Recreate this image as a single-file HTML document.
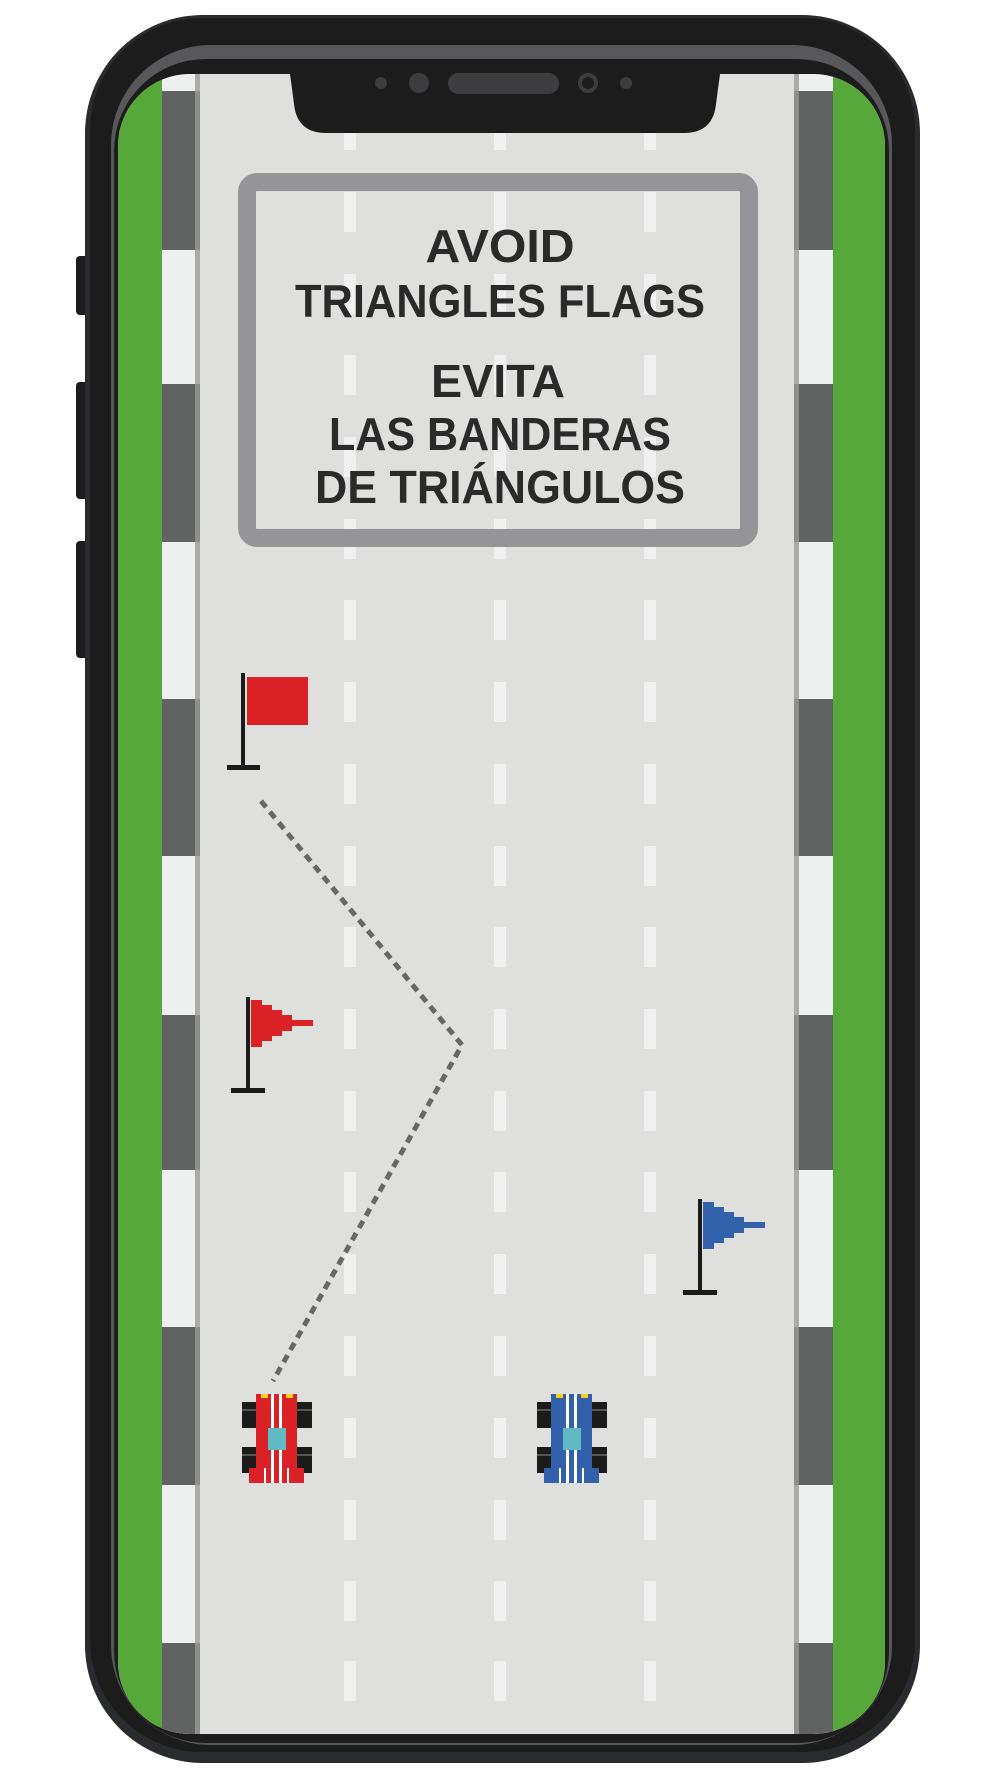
<!DOCTYPE html>
<html><head><meta charset="utf-8"><style>
html,body{margin:0;padding:0;background:#fff;}
svg{display:block;}
</style></head><body>
<svg width="1000" height="1778" viewBox="0 0 1000 1778" xmlns="http://www.w3.org/2000/svg">
<defs>
<clipPath id="scr"><rect x="118" y="74" width="767" height="1660" rx="72"/></clipPath>
<g id="car">
  <rect x="242" y="1402" width="70" height="26" fill="#1b1b1b"/>
  <rect x="242" y="1447" width="70" height="26" fill="#1b1b1b"/>
  <rect x="242" y="1409" width="70" height="2" fill="#555"/>
  <rect x="242" y="1454" width="70" height="2" fill="#555"/>
  <rect x="256" y="1394" width="41" height="80"/>
  <rect x="249" y="1468" width="55" height="15"/>
  <rect x="271" y="1394" width="3" height="89" fill="#fff"/>
  <rect x="279" y="1394" width="3" height="89" fill="#fff"/>
  <rect x="264" y="1468" width="2" height="15" fill="#fff"/>
  <rect x="287" y="1468" width="2" height="15" fill="#fff"/>
  <rect x="268" y="1428" width="18" height="22" fill="#5fbac3"/>
  <rect x="261" y="1394" width="7" height="4" fill="#f2d21b"/>
  <rect x="286" y="1394" width="7" height="4" fill="#f2d21b"/>
</g>
</defs>
<rect x="76" y="256" width="14" height="59" rx="4" fill="#1c1c1c"/>
<rect x="76" y="382" width="14" height="117" rx="4" fill="#1c1c1c"/>
<rect x="76" y="541" width="14" height="117" rx="4" fill="#1c1c1c"/>
<rect x="85" y="15" width="835" height="1748" rx="118" fill="#2a2b2f"/>
<rect x="90" y="18" width="825" height="1734" rx="112" fill="#1c1c1c"/>
<rect x="111" y="45" width="781" height="1700" rx="100" fill="#58585a"/>
<rect x="114" y="59" width="775" height="1684" rx="92" fill="#1c1c1c"/>
<g clip-path="url(#scr)">
  <rect x="118" y="74" width="767" height="1660" fill="#dfe0de"/>
  <rect x="118" y="74" width="44" height="1660" fill="#56a83a"/>
  <rect x="833" y="74" width="52" height="1660" fill="#56a83a"/>
  <rect x="162" y="74" width="38" height="1660" fill="#eef0ef"/>
  <rect x="794" y="74" width="39" height="1660" fill="#eef0ef"/>
  <g fill="#616362">
    <rect x="162" y="91" width="38" height="159"/><rect x="794" y="91" width="39" height="159"/>
    <rect x="162" y="384" width="38" height="158"/><rect x="794" y="384" width="39" height="158"/>
    <rect x="162" y="699" width="38" height="157"/><rect x="794" y="699" width="39" height="157"/>
    <rect x="162" y="1015" width="38" height="155"/><rect x="794" y="1015" width="39" height="155"/>
    <rect x="162" y="1327" width="38" height="158"/><rect x="794" y="1327" width="39" height="158"/>
    <rect x="162" y="1643" width="38" height="100"/><rect x="794" y="1643" width="39" height="100"/>
  </g>
  <rect x="195" y="74" width="5" height="1660" fill="#999a99" opacity="0.8"/>
  <rect x="794" y="74" width="5" height="1660" fill="#999a99" opacity="0.8"/>
  <g fill="#eff0ef">
  <rect x="344" y="110" width="12" height="40"/><rect x="494" y="110" width="12" height="40"/><rect x="644" y="110" width="12" height="40"/>
  <rect x="344" y="192" width="12" height="40"/><rect x="494" y="192" width="12" height="40"/><rect x="644" y="192" width="12" height="40"/>
  <rect x="344" y="274" width="12" height="40"/><rect x="494" y="274" width="12" height="40"/><rect x="644" y="274" width="12" height="40"/>
  <rect x="344" y="355" width="12" height="40"/><rect x="494" y="355" width="12" height="40"/><rect x="644" y="355" width="12" height="40"/>
  <rect x="344" y="437" width="12" height="40"/><rect x="494" y="437" width="12" height="40"/><rect x="644" y="437" width="12" height="40"/>
  <rect x="344" y="519" width="12" height="40"/><rect x="494" y="519" width="12" height="40"/><rect x="644" y="519" width="12" height="40"/>
  <rect x="344" y="600" width="12" height="40"/><rect x="494" y="600" width="12" height="40"/><rect x="644" y="600" width="12" height="40"/>
  <rect x="344" y="682" width="12" height="40"/><rect x="494" y="682" width="12" height="40"/><rect x="644" y="682" width="12" height="40"/>
  <rect x="344" y="764" width="12" height="40"/><rect x="494" y="764" width="12" height="40"/><rect x="644" y="764" width="12" height="40"/>
  <rect x="344" y="846" width="12" height="40"/><rect x="494" y="846" width="12" height="40"/><rect x="644" y="846" width="12" height="40"/>
  <rect x="344" y="927" width="12" height="40"/><rect x="494" y="927" width="12" height="40"/><rect x="644" y="927" width="12" height="40"/>
  <rect x="344" y="1009" width="12" height="40"/><rect x="494" y="1009" width="12" height="40"/><rect x="644" y="1009" width="12" height="40"/>
  <rect x="344" y="1091" width="12" height="40"/><rect x="494" y="1091" width="12" height="40"/><rect x="644" y="1091" width="12" height="40"/>
  <rect x="344" y="1172" width="12" height="40"/><rect x="494" y="1172" width="12" height="40"/><rect x="644" y="1172" width="12" height="40"/>
  <rect x="344" y="1254" width="12" height="40"/><rect x="494" y="1254" width="12" height="40"/><rect x="644" y="1254" width="12" height="40"/>
  <rect x="344" y="1336" width="12" height="40"/><rect x="494" y="1336" width="12" height="40"/><rect x="644" y="1336" width="12" height="40"/>
  <rect x="344" y="1418" width="12" height="40"/><rect x="494" y="1418" width="12" height="40"/><rect x="644" y="1418" width="12" height="40"/>
  <rect x="344" y="1500" width="12" height="40"/><rect x="494" y="1500" width="12" height="40"/><rect x="644" y="1500" width="12" height="40"/>
  <rect x="344" y="1581" width="12" height="40"/><rect x="494" y="1581" width="12" height="40"/><rect x="644" y="1581" width="12" height="40"/>
  <rect x="344" y="1661" width="12" height="40"/><rect x="494" y="1661" width="12" height="40"/><rect x="644" y="1661" width="12" height="40"/>
  </g>
  <rect x="247" y="182" width="502" height="356" rx="10" fill="none" stroke="#959597" stroke-width="18"/>
  <g font-family="'Liberation Sans','Noto Sans CJK JP',sans-serif" font-weight="bold" font-size="46" fill="#2a2a2a" text-anchor="middle">
    <text x="500" y="262" textLength="149" lengthAdjust="spacingAndGlyphs">AVOID</text>
    <text x="500" y="317" textLength="410" lengthAdjust="spacingAndGlyphs">TRIANGLES FLAGS</text>
    <text x="498" y="397" textLength="134" lengthAdjust="spacingAndGlyphs">EVITA</text>
    <text x="500" y="450" textLength="342" lengthAdjust="spacingAndGlyphs">LAS BANDERAS</text>
    <text x="500" y="503" textLength="370" lengthAdjust="spacingAndGlyphs">DE TRIÁNGULOS</text>
  </g>
  <polyline points="261,801 462,1045 273,1381" fill="none" stroke="#666766" stroke-width="5" stroke-dasharray="8,6"/>
  <rect x="241" y="673" width="4" height="95" fill="#1b1b1b"/>
  <rect x="227" y="765" width="33" height="5" fill="#1b1b1b"/>
  <rect x="247" y="677" width="61" height="48" fill="#d92126"/>
  <rect x="246" y="997" width="4" height="94" fill="#1b1b1b"/>
  <rect x="231" y="1088" width="34" height="5" fill="#1b1b1b"/>
  <polygon fill="#d92126" points="251,1000 262,1000 262,1005 272,1005 272,1010 282,1010 282,1015 292,1015 292,1020 313,1020 313,1026 292,1026 292,1031 282,1031 282,1036 272,1036 272,1041 262,1041 262,1047 251,1047"/>
  <rect x="698" y="1199" width="4" height="94" fill="#1b1b1b"/>
  <rect x="683" y="1290" width="34" height="5" fill="#1b1b1b"/>
  <polygon fill="#3262ab" points="703,1202 714,1202 714,1207 724,1207 724,1212 734,1212 734,1217 744,1217 744,1222 765,1222 765,1228 744,1228 744,1233 734,1233 734,1238 724,1238 724,1243 714,1243 714,1249 703,1249"/>
  <use href="#car" fill="#d92126"/>
  <use href="#car" fill="#3260aa" transform="translate(295,0)"/>
</g>
<path d="M290,74 L720,74 L716,104 Q713,133 684,133 L326,133 Q297,133 294,104 Z" fill="#1c1c1c"/>
<circle cx="381" cy="83" r="6" fill="#3d3d3f"/>
<circle cx="419" cy="83" r="10" fill="#3d3d3f"/>
<rect x="448" y="73" width="111" height="21" rx="10.5" fill="#3d3d3f"/>
<circle cx="588" cy="83" r="8" fill="none" stroke="#3d3d3f" stroke-width="4"/>
<circle cx="626" cy="83" r="6" fill="#3d3d3f"/>
</svg>
</body></html>
